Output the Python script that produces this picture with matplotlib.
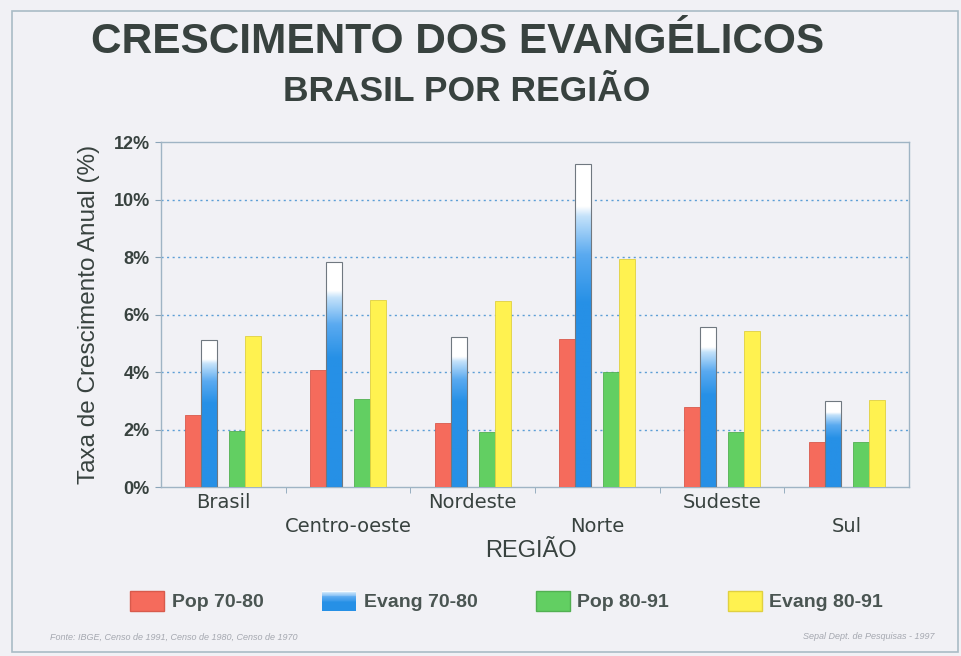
import matplotlib
matplotlib.use("Agg")
import matplotlib.pyplot as plt
import numpy as np
from matplotlib.patches import Rectangle
from matplotlib.colors import LinearSegmentedColormap
from matplotlib.legend_handler import HandlerBase
from matplotlib.transforms import ScaledTranslation

# data (annual growth rate, %)
regioes = ["Brasil", "Centro-oeste", "Nordeste", "Norte", "Sudeste", "Sul"]
pop_70_80 = [2.50, 4.07, 2.21, 5.16, 2.77, 1.58]
evang_70_80 = [5.10, 7.84, 5.21, 11.22, 5.57, 2.99]
pop_80_91 = [1.94, 3.05, 1.92, 4.00, 1.92, 1.57]
evang_80_91 = [5.26, 6.51, 6.48, 7.93, 5.43, 3.01]
series_labels = ["Pop 70-80", "Evang 70-80", "Pop 80-91", "Evang 80-91"]

RED = "#f56b5c"
BLUE = "#2690e6"
GREEN = "#62cf62"
YELLOW = "#fff250"
TXT = "#38423f"
BG = "#f1f1f5"
FONT = "Liberation Sans"

blue_cmap = LinearSegmentedColormap.from_list(
    "evang", [(0, BLUE), (0.57, BLUE), (0.72, "#5aaaf0"), (0.84, "#c4e2fa"),
              (0.87, "#ffffff"), (1, "#ffffff")])

fig = plt.figure(figsize=(9.61, 6.56), dpi=100, facecolor=BG)
ax = fig.add_axes([0.1675, 0.2576, 0.7784, 0.5259])
ax.set_facecolor(BG)

x = np.arange(len(regioes))
w = 0.128
off = [-0.24, -0.112, 0.112, 0.24]

ax.bar(x + off[0], pop_70_80, w, color=RED, edgecolor="#d85a4c", linewidth=0.6, zorder=3)
ax.bar(x + off[2], pop_80_91, w, color=GREEN, edgecolor="#52b052", linewidth=0.6, zorder=3)
ax.bar(x + off[3], evang_80_91, w, color=YELLOW, edgecolor="#e0d040", linewidth=0.6, zorder=3)

# blue bars with a fade to white near the top
grad = np.linspace(0, 1, 256).reshape(-1, 1)
bars = ax.bar(x + off[1], evang_70_80, w, facecolor="none", edgecolor="#707880",
              linewidth=0.8, zorder=4)
for b in bars:
    im = ax.imshow(grad, cmap=blue_cmap, origin="lower", aspect="auto",
                   extent=(b.get_x(), b.get_x() + b.get_width(), 0, b.get_height()),
                   zorder=3, interpolation="bilinear")
    im.set_clip_path(b)

ax.set_xlim(-0.5, len(regioes) - 0.5)
ax.set_ylim(0, 12)
ax.set_yticks(np.arange(0, 13, 2))
ax.set_yticklabels([f"{v}%" for v in range(0, 13, 2)], fontsize=13,
                   color=TXT, family=FONT, fontweight="bold")
for yv in range(2, 12, 2):
    ax.axhline(yv, color="#5d9fd6", linestyle=(0, (1.5, 2.5)), linewidth=1.0, zorder=1)

ax.set_xticks(x)
ax.set_xticklabels(regioes, fontsize=14, color=TXT, family="DejaVu Sans")
ax.set_xticks(np.arange(0.5, len(regioes) - 0.5), minor=True)
ax.tick_params(axis="x", which="major", length=0, pad=4)
ax.tick_params(axis="x", which="minor", length=4, color="#8aa4b8")
ax.tick_params(axis="y", length=4, color="#8aa4b8", pad=4)
for i, lab in enumerate(ax.get_xticklabels()):
    if i % 2 == 1:
        lab.set_transform(lab.get_transform() + ScaledTranslation(0, -24 / 100, fig.dpi_scale_trans))

for s in ax.spines.values():
    s.set_color("#9fb4c4")
    s.set_linewidth(1.0)

ax.set_ylabel("Taxa de Crescimento Anual (%)", fontsize=17.5, color=TXT, family=FONT,
              labelpad=10)
fig.text(0.553, 0.16, "REGIÃO", fontsize=17, color=TXT, family=FONT,
         ha="center", va="center")

fig.text(0.476, 0.936, "CRESCIMENTO DOS EVANGÉLICOS", fontsize=30.5, fontweight="bold",
         color=TXT, family=FONT, ha="center", va="center")
fig.text(0.486, 0.86, "BRASIL POR REGIÃO", fontsize=25.5, fontweight="bold",
         color=TXT, family=FONT, ha="center", va="center")


class GradKey:
    pass


class GradHandler(HandlerBase):
    def create_artists(self, legend, orig_handle, xd, yd, width, height, fontsize, trans):
        n = 24
        arts = []
        for k in range(n):
            c = blue_cmap(0.35 + 0.55 * (k + 0.5) / n)
            arts.append(Rectangle((-xd, -yd + height * k / n), width, height / n * 1.05,
                                  facecolor=c, edgecolor="none", transform=trans))
        return arts


handles = [Rectangle((0, 0), 1, 1, facecolor=RED, edgecolor="#d85a4c"),
           GradKey(),
           Rectangle((0, 0), 1, 1, facecolor=GREEN, edgecolor="#52b052"),
           Rectangle((0, 0), 1, 1, facecolor=YELLOW, edgecolor="#e0d040")]

leg = fig.legend(handles, series_labels, loc="center", bbox_to_anchor=(0.527, 0.084),
                 ncol=4, frameon=False, handlelength=1.75, handleheight=1.2,
                 handletextpad=0.4, columnspacing=3.0,
                 prop={"family": FONT, "size": 14, "weight": "bold"},
                 handler_map={GradKey: GradHandler()})
for t in leg.get_texts():
    t.set_color("#4a5552")

fig.text(0.052, 0.029, "Fonte: IBGE, Censo de 1991, Censo de 1980, Censo de 1970",
         fontsize=6.5, color="#a5a8b0", family=FONT, style="italic", va="center")
fig.text(0.972, 0.029, "Sepal Dept. de Pesquisas - 1997", fontsize=6.5,
         color="#a5a8b0", family=FONT, style="italic", va="center", ha="right")

fig.patches.append(Rectangle((0.0125, 0.006), 0.984, 0.977, transform=fig.transFigure,
                             fill=False, edgecolor="#a9bcc6", linewidth=1.2))

fig.savefig("out.png", dpi=100, facecolor=BG)
